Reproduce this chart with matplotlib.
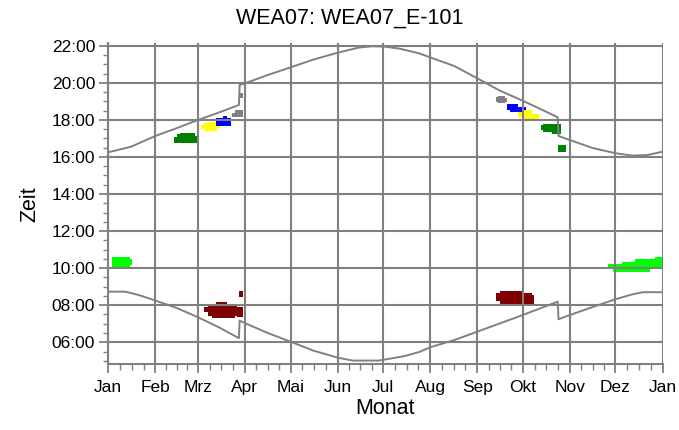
import numpy as np
import matplotlib
matplotlib.use('Agg')
import matplotlib.pyplot as plt

plt.rcParams['font.family'] = ['Liberation Sans', 'DejaVu Sans']

# month labels (German) and first day of each month (non-leap year)
month_labels = ['Jan', 'Feb', 'Mrz', 'Apr', 'Mai', 'Jun', 'Jul', 'Aug', 'Sep', 'Okt', 'Nov', 'Dez', 'Jan']
month_start = [0, 31, 59, 90, 120, 151, 181, 212, 243, 273, 304, 334, 365]
hour_ticks = [6, 8, 10, 12, 14, 16, 18, 20, 22]

# sunset / sunrise (hours, local time incl. DST jumps)
sunset_day = [1, 15, 31, 45, 59, 73, 86, 86.5, 90, 105, 120, 135, 151, 165, 174, 182,
              192, 205, 212, 228, 243, 258, 273, 286, 296, 296.5, 304, 319, 334, 345,
              355, 365]
sunset_h = [16.27, 16.55, 17.13, 17.55, 17.99, 18.40, 18.80, 19.88, 19.97, 20.42, 20.83,
            21.25, 21.62, 21.90, 21.97, 21.95, 21.84, 21.58, 21.37, 20.90, 20.24, 19.57,
            19.03, 18.53, 18.14, 17.13, 16.91, 16.48, 16.20, 16.07, 16.10, 16.28]
sunrise_day = [1, 11, 20, 31, 45, 59, 73, 86, 86.5, 90, 105, 120, 135, 151, 161, 178,
               186, 195, 205, 212, 228, 243, 258, 273, 296, 296.5, 304, 319, 334, 345,
               352, 365]
sunrise_h = [8.73, 8.73, 8.55, 8.25, 7.85, 7.35, 6.80, 6.22, 7.17, 7.03, 6.50, 6.03,
             5.55, 5.17, 5.01, 5.01, 5.12, 5.25, 5.48, 5.73, 6.12, 6.57, 7.02, 7.47, 8.19,
             7.24, 7.47, 7.90, 8.32, 8.58, 8.70, 8.70]

# shadow periods: (day, start hour, end hour) per column
green_spring = ([43.4, 45.2, 47.3, 57.1, 58.4],
                [16.77, 16.77, 16.77, 16.77, 16.77],
                [17.09, 17.22, 17.28, 17.13, 17.13])
yellow_spring = ([61.1, 63.2, 66.0, 71.4, 73.6],
                 [17.51, 17.42, 17.42, 17.55, 17.55],
                 [17.72, 17.81, 17.87, 17.81, 17.81])
blue_spring = ([70.9, 75.4, 78.0, 80.8],
               [17.69, 17.69, 17.69, 17.69],
               [18.08, 18.21, 18.08, 18.08])
gray_spring = ([81.3, 83.5, 88.5],
               [18.14, 18.14, 18.14],
               [18.35, 18.53, 18.53])
gray_spring2 = ([86.3, 88.5], [19.16, 19.16], [19.46, 19.46])
red_spring = ([63.0, 65.9, 68.1, 70.9, 78.0, 83.5, 85.0, 88.9],
              [7.65, 7.42, 7.30, 7.30, 7.30, 7.42, 7.35, 7.35],
              [7.89, 8.07, 8.07, 8.19, 8.07, 8.07, 7.89, 7.89])
red_spring2 = ([86.1, 88.8], [8.46, 8.46], [8.79, 8.79])
lime_jan = ([2.2, 4.4, 14.3, 15.4],
            [9.94, 10.08, 10.17, 10.17],
            [10.59, 10.59, 10.48, 10.48])

gray_autumn = ([255.4, 256.9, 261.3, 262.4],
               [18.98, 18.93, 18.98, 18.98],
               [19.22, 19.30, 19.16, 19.16])
blue_autumn = ([262.4, 264.6, 270.1, 275.2],
               [18.53, 18.44, 18.44, 18.44],
               [18.86, 18.86, 18.71, 18.71])
yellow_autumn = ([269.7, 272.3, 278.9, 283.9],
                 [18.14, 17.99, 17.99, 17.99],
                 [18.44, 18.53, 18.32, 18.32])
green_autumn = ([285.0, 286.6, 292.1, 298.2],
                [17.45, 17.36, 17.22, 17.22],
                [17.72, 17.76, 17.76, 17.76])
green_autumn2 = ([296.0, 301.3], [16.28, 16.28], [16.64, 16.64])
red_autumn = ([255.4, 258.0, 273.4, 278.9, 280.4],
              [8.23, 8.01, 8.01, 8.01, 8.01],
              [8.64, 8.79, 8.64, 8.55, 8.55])
lime_dec = ([329.4, 332.7, 338.2, 347.0, 356.8, 360.1, 365],
            [9.94, 9.81, 9.81, 9.81, 10.03, 10.03, 10.03],
            [10.23, 10.23, 10.35, 10.48, 10.48, 10.59, 10.59])

blobs = [(green_spring, '#008000'), (yellow_spring, '#ffff00'), (blue_spring, '#0000ff'),
         (gray_spring, '#808080'), (gray_spring2, '#808080'), (red_spring, '#800000'),
         (red_spring2, '#800000'), (lime_jan, '#00ff00'),
         (gray_autumn, '#808080'), (blue_autumn, '#0000ff'), (yellow_autumn, '#ffff00'),
         (green_autumn, '#008000'), (green_autumn2, '#008000'), (red_autumn, '#800000'),
         (lime_dec, '#00ff00')]

fig = plt.figure(figsize=(6.79, 4.30), dpi=100)
ax = fig.add_axes([0.1595, 0.1528, 0.8162, 0.7465])

for (d, lo, hi), c in blobs:
    ax.fill_between(d, lo, hi, step='post', color=c, lw=0, zorder=1)

gcol = '#808080'
for m in month_start:
    ax.axvline(m, color=gcol, lw=1.5, zorder=2)
for h in hour_ticks:
    ax.axhline(h, color=gcol, lw=1.5, zorder=2)

ax.plot(sunset_day, sunset_h, color=gcol, lw=1.4, zorder=3)
ax.plot(sunrise_day, sunrise_h, color=gcol, lw=1.4, zorder=3)

ax.set_xlim(0, 365)
ax.set_ylim(4.81, 22.13)

ax.set_xticks(month_start)
ax.set_xticklabels(month_labels)
minor_x = []
for i in range(12):
    L = month_start[i + 1] - month_start[i]
    minor_x += [month_start[i] + L * k / 4 for k in (1, 2, 3)]
ax.set_xticks(minor_x, minor=True)
ax.set_yticks(hour_ticks)
ax.set_yticklabels(['%02d:00' % h for h in hour_ticks])
ax.set_yticks(np.arange(5.0, 22.01, 0.5), minor=True)

for s in ['top', 'right']:
    ax.spines[s].set_visible(False)
for s in ['left', 'bottom']:
    ax.spines[s].set_color(gcol)
    ax.spines[s].set_linewidth(1.5)

ax.tick_params(which='major', length=6.5, width=1.3, color=gcol, labelsize=12.5, pad=3)
ax.tick_params(which='minor', length=3.5, width=1.0, color=gcol)
ax.tick_params(axis='x', which='major', pad=5)
ax.tick_params(axis='x', which='minor', length=4.5)

ax.set_xlabel('Monat', fontsize=15.5, labelpad=2)
ax.set_ylabel('Zeit', fontsize=15.5, labelpad=8)
fig.text(0.5147, 0.958, 'WEA07: WEA07_E-101', ha='center', va='center', fontsize=15.5)

fig.savefig('out.png', dpi=100)
